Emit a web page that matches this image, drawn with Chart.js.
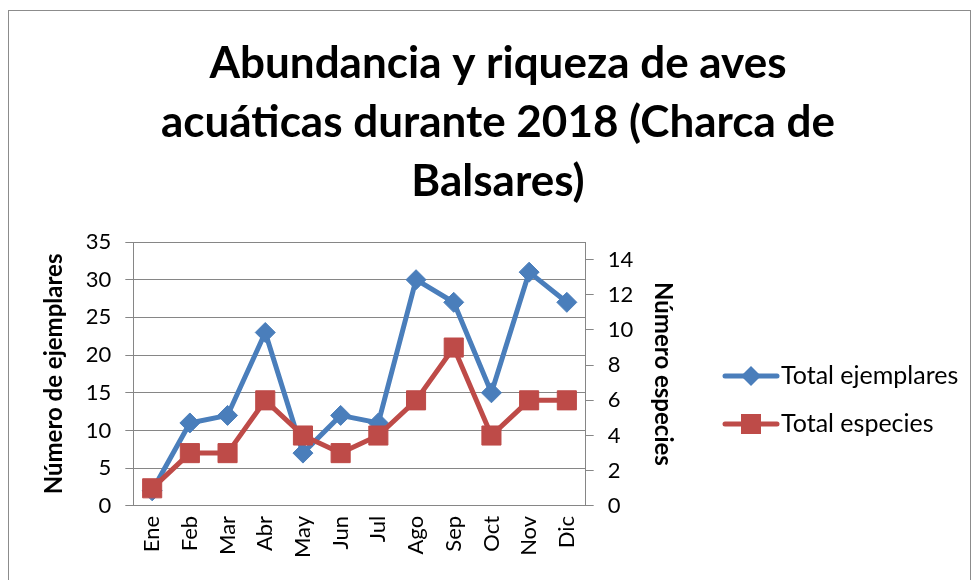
<!DOCTYPE html>
<html>
<head>
<meta charset="utf-8">
<script src="https://cdn.jsdelivr.net/npm/chart.js@4.4.0/dist/chart.umd.min.js"></script>
<style>
  html, body { margin: 0; padding: 0; background: #fff; overflow: hidden; }
  #marco { position: absolute; left: 8px; top: 10px; width: 961px; height: 600px; border: 1px solid #8c8c8c; }
  #contenedor { position: absolute; left: 0; top: 0; width: 976px; height: 580px; }
</style>
</head>
<body>
<div id="marco"></div>
<div id="contenedor"><canvas id="grafico" width="976" height="580"></canvas></div>
<script>
// datos
const meses = ['Ene', 'Feb', 'Mar', 'Abr', 'May', 'Jun', 'Jul', 'Ago', 'Sep', 'Oct', 'Nov', 'Dic'];
const totalEjemplares = [2, 11, 12, 23, 7, 12, 11, 30, 27, 15, 31, 27];
const totalEspecies = [1, 3, 3, 6, 4, 3, 4, 6, 9, 4, 6, 6];
const ticksEjemplares = [0, 5, 10, 15, 20, 25, 30, 35];
const ticksEspecies = [0, 2, 4, 6, 8, 10, 12, 14];

const azul = '#4A7EBB';
const rojo = '#BE4B48';
const gris = '#868686';
const fuente = 'Lato, "Liberation Sans", sans-serif';

// icono de leyenda: linea con el marcador en medio
function iconoLeyenda(color, forma) {
    const c = document.createElement('canvas');
    c.width = 58;
    c.height = 26;
    const ctx = c.getContext('2d');
    ctx.strokeStyle = color;
    ctx.fillStyle = color;
    ctx.lineWidth = 5;
    ctx.lineCap = 'round';
    ctx.beginPath();
    ctx.moveTo(3, 13);
    ctx.lineTo(55, 13);
    ctx.stroke();
    ctx.beginPath();
    if (forma === 'rombo') {
        ctx.moveTo(29, 3);
        ctx.lineTo(39, 13);
        ctx.lineTo(29, 23);
        ctx.lineTo(19, 13);
    } else {
        ctx.rect(19, 3, 20, 20);
    }
    ctx.closePath();
    ctx.fill();
    return c;
}

const iconos = [iconoLeyenda(azul, 'rombo'), iconoLeyenda(rojo, 'cuadrado')];

// leyenda a la derecha como caja propia del layout (linea + marcador)
const leyendaLineas = {
    id: 'leyendaLineas',
    beforeInit(chart) {
        const caja = {
            position: 'right',
            weight: 1000,
            fullSize: false,
            options: {},
            left: 0, top: 0, right: 0, bottom: 0, width: 0, height: 0,
            isHorizontal() { return false; },
            update(maxWidth, maxHeight) {
                this.width = 281;
                this.height = maxHeight;
            },
            draw() {
                const ctx = chart.ctx;
                const area = chart.chartArea;
                const medio = (area.top + area.bottom) / 2;
                ctx.save();
                ctx.font = '25px ' + fuente;
                ctx.textBaseline = 'middle';
                ctx.textAlign = 'left';
                chart.data.datasets.forEach((ds, i) => {
                    const y = medio + 2 + i * 48;
                    const x = this.left + 45;
                    ctx.drawImage(iconos[i], x, y - iconos[i].height / 2);
                    ctx.fillStyle = '#000';
                    ctx.fillText(ds.label, x + iconos[i].width + 1, y);
                });
                ctx.restore();
            }
        };
        Chart.layouts.addBox(chart, caja);
    }
};

const data = {
    labels: meses,
    datasets: [
        {
            label: 'Total ejemplares',
            data: totalEjemplares,
            yAxisID: 'y',
            borderColor: azul,
            backgroundColor: azul,
            borderWidth: 5,
            pointStyle: 'rectRot',
            pointRadius: 10,
            pointBorderWidth: 1,
            pointBorderColor: azul,
            pointBackgroundColor: azul,
            tension: 0,
            order: 1
        },
        {
            label: 'Total especies',
            data: totalEspecies,
            yAxisID: 'y2',
            borderColor: rojo,
            backgroundColor: rojo,
            borderWidth: 5,
            pointStyle: 'rect',
            pointRadius: 13.5,
            pointBorderWidth: 1,
            pointBorderColor: rojo,
            pointBackgroundColor: rojo,
            tension: 0,
            order: 0
        }
    ]
};

const config = {
    type: 'line',
    data: data,
    plugins: [leyendaLineas],
    options: {
        responsive: false,
        devicePixelRatio: 1,
        animation: false,
        layout: {
            padding: { left: 38, right: 18, top: 34, bottom: 12 }
        },
        plugins: {
            title: {
                display: true,
                text: ['Abundancia y riqueza de aves', 'acuáticas durante 2018 (Charca de', 'Balsares)'],
                color: '#000',
                font: { family: fuente, size: 44, weight: 'bold', lineHeight: 59 / 44 },
                padding: { top: 0, bottom: 31 }
            },
            legend: { display: false },
            tooltip: { enabled: false }
        },
        scales: {
            x: {
                offset: true,
                grid: { display: false, drawTicks: false },
                border: { display: false },
                ticks: {
                    color: '#000',
                    font: { family: fuente, size: 22 },
                    minRotation: 90,
                    maxRotation: 90,
                    padding: 10
                }
            },
            y: {
                position: 'left',
                min: 0,
                max: 35,
                afterBuildTicks: (scale) => { scale.ticks = ticksEjemplares.map(v => ({ value: v })); },
                grid: { color: gris, lineWidth: 1, tickLength: 8 },
                border: { color: gris },
                ticks: { color: '#000', font: { family: fuente, size: 22 }, padding: 14 },
                title: {
                    display: true,
                    text: 'Número de ejemplares',
                    color: '#000',
                    font: { family: fuente, size: 24, weight: 'bold' },
                    padding: { top: 2, bottom: 3 }
                }
            },
            y2: {
                position: 'right',
                min: 0,
                max: 15,
                afterBuildTicks: (scale) => { scale.ticks = ticksEspecies.map(v => ({ value: v })); },
                grid: { drawOnChartArea: false, color: gris, tickLength: 8 },
                border: { color: gris },
                ticks: { color: '#000', font: { family: fuente, size: 22 }, padding: 14 },
                title: {
                    display: true,
                    text: 'Número especies',
                    color: '#000',
                    font: { family: fuente, size: 24, weight: 'bold' },
                    padding: { top: 0, bottom: 1 }
                }
            }
        }
    }
};

new Chart(document.getElementById('grafico').getContext('2d'), config);
</script>
</body>
</html>
